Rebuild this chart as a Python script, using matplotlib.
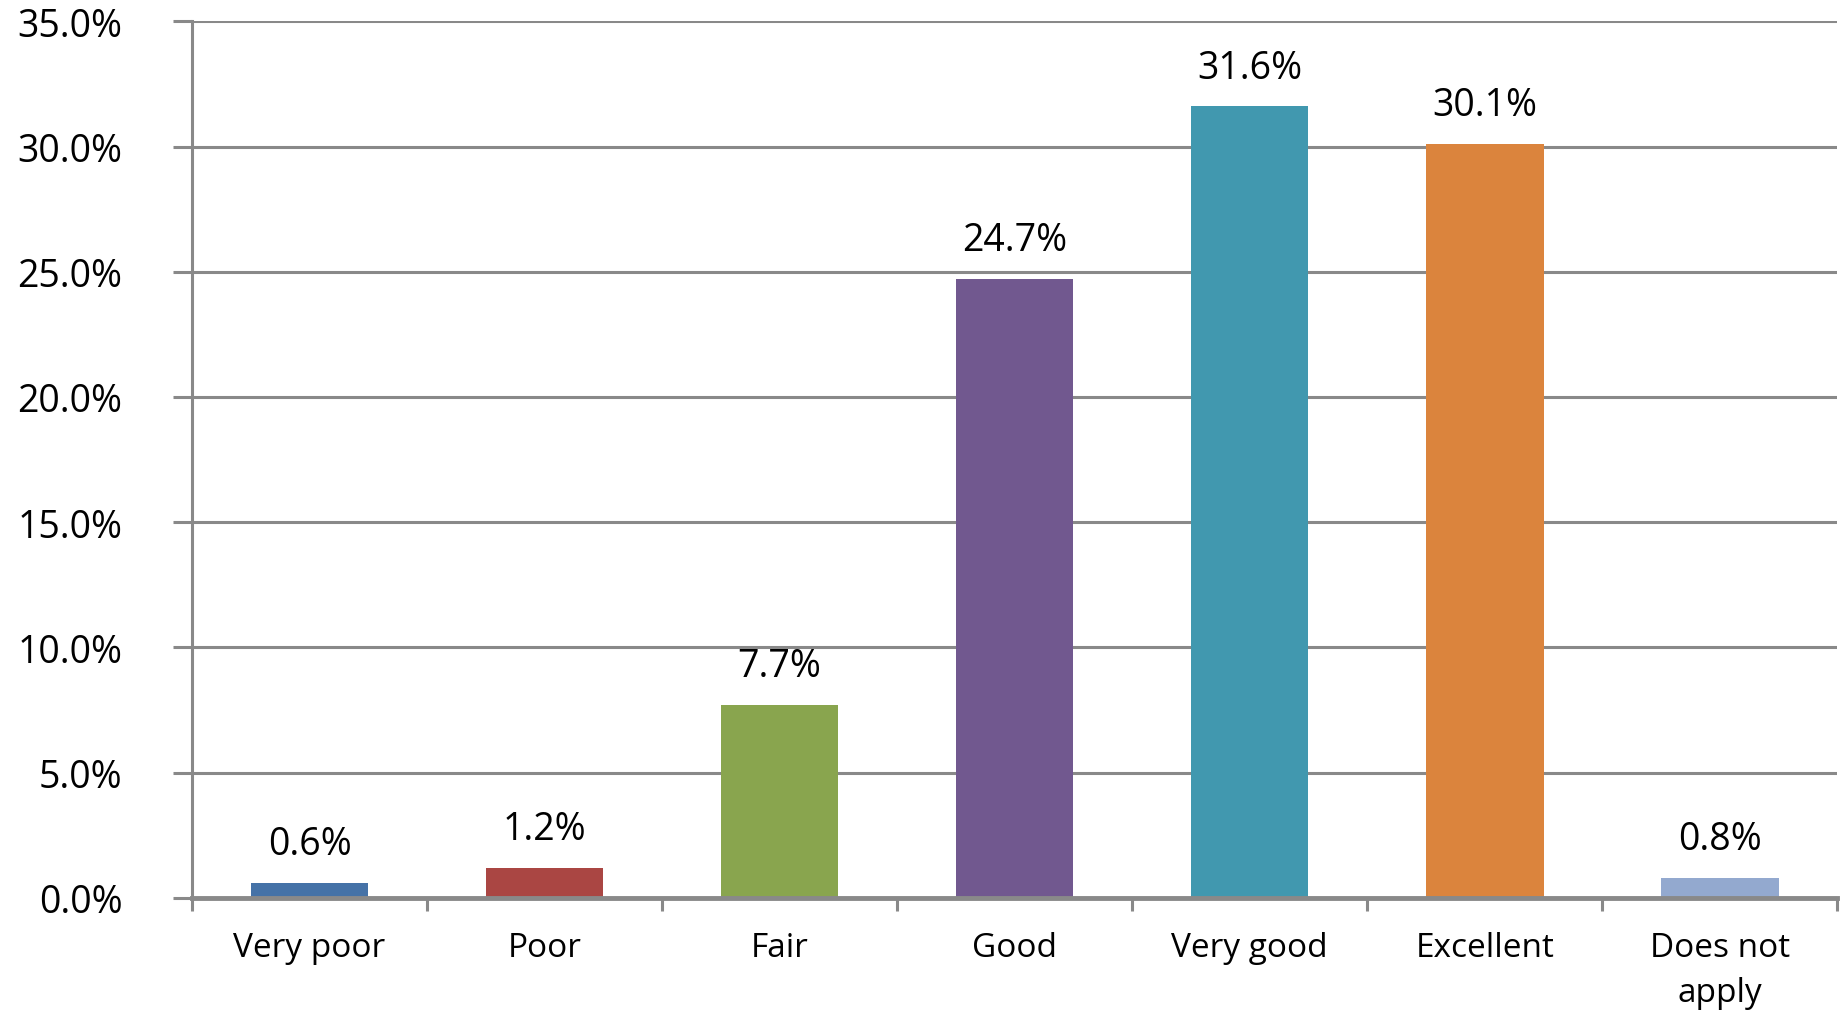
import matplotlib.pyplot as plt
import numpy as np

categories = ["Very poor", "Poor", "Fair", "Good", "Very good", "Excellent", "Does not\napply"]
values = [0.6, 1.2, 7.7, 24.7, 31.6, 30.1, 0.8]
colors = ["#4572A7", "#AA4643", "#89A54E", "#71588F", "#4198AF", "#DB843D", "#93A9CF"]
yticks = [0, 5, 10, 15, 20, 25, 30, 35]

plt.rcParams['font.family'] = ['Open Sans', 'DejaVu Sans']
grid_c = "#898989"

fig = plt.figure(figsize=(18.41, 10.12), dpi=100)
ax = fig.add_axes([0.1043, 0.1117, 0.8937, 0.8663])

x = np.arange(len(categories))
ax.bar(x, values, width=0.5, color=colors, zorder=2)

for xi, v in zip(x, values):
    ax.annotate(f"{v:.1f}%", (xi, v), xytext=(0, 28), textcoords="offset points",
                ha="center", va="center", fontsize=27)

ax.set_xlim(-0.5, len(categories) - 0.5)
ax.set_ylim(0, 35)
ax.set_yticks(yticks)
ax.set_yticklabels([f"{t:.1f}%" for t in yticks], fontsize=27)
ax.yaxis.grid(True, color=grid_c, linewidth=2.2, zorder=0)
ax.tick_params(axis="y", length=14, width=2.2, color=grid_c, pad=36)

ax.set_xticks(x)
ax.set_xticklabels(categories, fontsize=24, linespacing=1.45)
ax.set_xticks(np.arange(len(categories) + 1) - 0.5, minor=True)
ax.tick_params(axis="x", which="major", length=0, pad=24)
ax.tick_params(axis="x", which="minor", length=9, width=2.2, color=grid_c)

for s in ["top", "right"]:
    ax.spines[s].set_visible(False)
ax.spines["left"].set_color(grid_c)
ax.spines["left"].set_linewidth(2.2)
ax.spines["bottom"].set_color(grid_c)
ax.spines["bottom"].set_linewidth(3.5)
ax.spines["bottom"].set_zorder(3)

fig.savefig("out.png", dpi=100)
